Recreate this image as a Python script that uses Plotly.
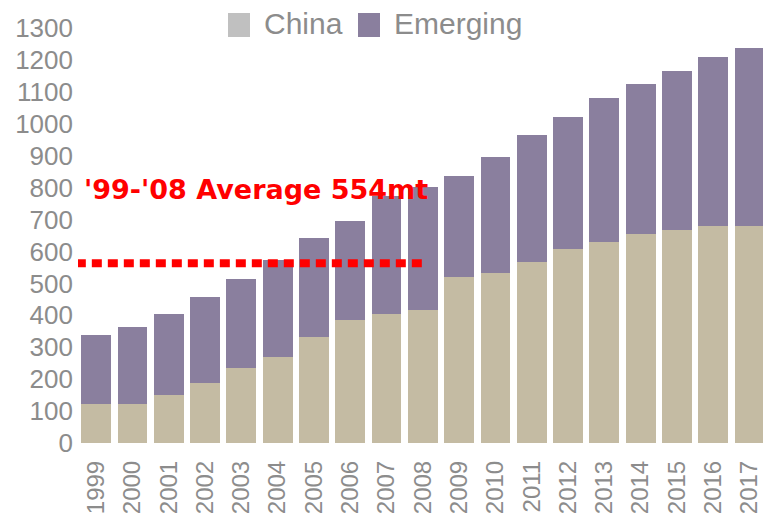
import plotly.graph_objects as go

years = ["1999", "2000", "2001", "2002", "2003", "2004", "2005", "2006", "2007", "2008",
         "2009", "2010", "2011", "2012", "2013", "2014", "2015", "2016", "2017"]
china = [122, 122, 150, 188, 235, 270, 332, 386, 404, 417,
         520, 533, 567, 608, 630, 655, 668, 680, 680]
total = [338, 363, 404, 458, 514, 573, 643, 696, 775, 802,
         837, 897, 965, 1022, 1081, 1125, 1166, 1210, 1238]
emerging = [t - c for t, c in zip(total, china)]
avg_value = 563
avg_label = "'99-'08 Average 554mt"
avg_span = ["1999", "2008"]
y_ticks = list(range(0, 1301, 100))

C_CHINA = "#c4bba3"
C_EMERG = "#8a7f9e"
C_TICK = "#8c8c8c"

xi = list(range(len(years)))

fig = go.Figure()
fig.add_trace(go.Bar(x=xi, y=china, name="China", marker=dict(color=C_CHINA, line=dict(width=0)),
                     showlegend=False))
fig.add_trace(go.Bar(x=xi, y=emerging, name="Emerging", marker=dict(color=C_EMERG, line=dict(width=0)),
                     showlegend=False))

i0 = years.index(avg_span[0])
i1 = years.index(avg_span[1])
fig.add_shape(type="line", xref="x", yref="y", x0=i0 - 0.56, x1=i1, y0=avg_value, y1=avg_value,
              line=dict(color="#ff0000", width=8, dash="10px,6px"))
fig.add_annotation(xref="x", yref="y", x=i0 - 0.38, y=avg_value + 233, text=avg_label,
                   showarrow=False, xanchor="left", yanchor="middle",
                   font=dict(family="DejaVu Sans", size=27, color="#ff0000", weight="bold"))

# legend drawn manually (page pixel positions -> plot paper fractions)
W, H = 685.0, 418.0
def px_x(p):
    return (p - 78) / W
def px_y(p):
    return (443 - p) / H

for (x0, x1, col, lx, name) in [(228, 250, "#c0c0c0", 262, "China"),
                                (358, 380, C_EMERG, 392, "Emerging")]:
    fig.add_shape(type="rect", xref="paper", yref="paper", x0=px_x(x0), x1=px_x(x1),
                  y0=px_y(37), y1=px_y(13), fillcolor=col, line=dict(width=0), layer="above")
    fig.add_annotation(xref="paper", yref="paper", x=px_x(lx), y=px_y(23), text=name,
                       showarrow=False, xanchor="left", yanchor="middle",
                       font=dict(family="Liberation Sans, Arial", size=30, color=C_TICK))

fig.update_layout(
    width=763, height=517,
    margin=dict(l=78, r=0, t=25, b=74),
    barmode="stack", bargap=0.18,
    plot_bgcolor="white", paper_bgcolor="white",
    font=dict(family="Liberation Sans, Arial", color=C_TICK),
    showlegend=False,
)
fig.update_xaxes(range=[-0.5, 18.37], tickvals=xi, ticktext=years, tickangle=-90,
                 tickfont=dict(size=24, color=C_TICK), showgrid=False, zeroline=False,
                 showline=False, ticks="", ticklabelstandoff=12)
fig.update_yaxes(range=[0, 1310], tickvals=y_ticks, tickfont=dict(size=26, color=C_TICK),
                 showgrid=False, zeroline=False, showline=False, ticks="", ticklabelstandoff=4)

fig.write_html("out.html", config={"displayModeBar": False},
               post_script="document.body.style.margin='0';document.body.style.overflow='hidden';")
